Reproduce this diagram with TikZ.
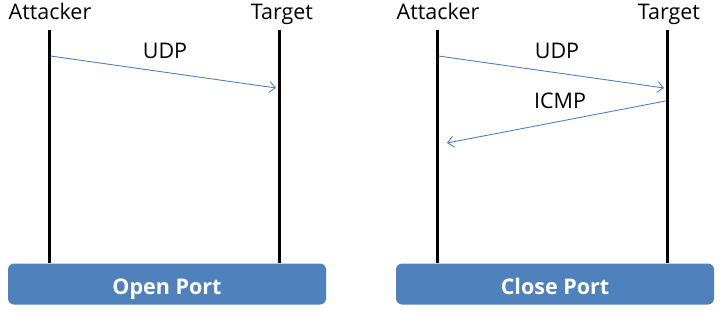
\documentclass[tikz,border=0pt]{standalone}
\usepackage{fontspec}
\setmainfont{Open Sans}
\usetikzlibrary{positioning,arrows.meta}
\definecolor{portblue}{RGB}{79,129,189}
\tikzset{
  actor/.style={font=\fontsize{21.5}{24}\selectfont,inner sep=0pt,anchor=base},
  lifeline/.style={line width=3pt,black},
  msg/.style={portblue,line width=0.9pt,-{Straight Barb[length=6pt,width=11pt]}},
  msglabel/.style={font=\fontsize{21.5}{24}\selectfont,inner sep=0pt,anchor=base},
  portbox/.style={fill=portblue,rounded corners=6pt,minimum width=318pt,minimum height=41pt,
    text=white,font=\fontsize{21.5}{24}\selectfont\bfseries,inner sep=0pt,
    text height=20pt,text depth=0pt}
}
\begin{document}
\begin{tikzpicture}[x=1pt,y=-1pt]
					\useasboundingbox (0,0) rectangle (727,313);
					% open port
					\node[actor] (atkone) at (50,20) {Attacker};
					\node[actor] (tgtone) at (282,20) {Target};
					\coordinate (atkonetop) at (49,30);
					\coordinate (atkonebot) at (49,263);
					\coordinate (tgtonetop) at (279,30);
					\coordinate (tgtonebot) at (279,263);
					\draw[lifeline] (atkonetop) -- (atkonebot);
					\draw[lifeline] (tgtonetop) -- (tgtonebot);
					\coordinate (udponefrom) at (50.5,56);
					\coordinate (udponeto) at (276,88);
					\draw[msg] (udponefrom) -- (udponeto);
					\node[msglabel] (udpone) at (165,59) {UDP};
					\node[portbox] (openport) at (167,284) {Open Port};
					% close port
					\node[actor] (atktwo) at (438,20) {Attacker};
					\node[actor] (tgttwo) at (669,20) {Target};
					\coordinate (atktwotop) at (437,30);
					\coordinate (atktwobot) at (437,263);
					\coordinate (tgttwotop) at (667,30);
					\coordinate (tgttwobot) at (667,263);
					\draw[lifeline] (atktwotop) -- (atktwobot);
					\draw[lifeline] (tgttwotop) -- (tgttwobot);
					\coordinate (udptwofrom) at (438.5,56);
					\coordinate (udptwoto) at (664,88);
					\draw[msg] (udptwofrom) -- (udptwoto);
					\node[msglabel] (udptwo) at (557,59) {UDP};
					\coordinate (icmpfrom) at (665.5,101);
					\coordinate (icmpto) at (447,143);
					\draw[msg] (icmpfrom) -- (icmpto);
					\node[msglabel] (icmp) at (560,108) {ICMP};
					\node[portbox] (closeport) at (555,284) {Close Port};
				\end{tikzpicture}
\end{document}
